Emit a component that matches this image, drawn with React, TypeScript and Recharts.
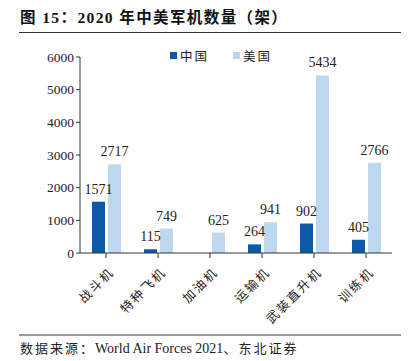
import React from "react";
import { BarChart, Bar, XAxis, YAxis, Legend, LabelList } from "recharts";

const categories = ["战斗机", "特种飞机", "加油机", "运输机", "武装直升机", "训练机"];
const chinaValues = [1571, 115, 0, 264, 902, 405];
const usValues = [2717, 749, 625, 941, 5434, 2766];
const yTicks = [0, 1000, 2000, 3000, 4000, 5000, 6000];

const data = categories.map((name, i) => ({
  name,
  china: chinaValues[i],
  us: usValues[i],
}));

const SERIF = '"Liberation Serif", "Times New Roman", "Noto Sans CJK SC", serif';
const CJK = '"Noto Sans CJK SC", "Liberation Serif", serif';
const CHINA = "#0b5aa8";
const US = "#bdd7ee";

function CategoryTick({ x, y, payload }: { x?: number; y?: number; payload?: { value: string } }) {
  const ax = (x ?? 0) + 5;
  const ay = (y ?? 0) + 9;
  return (
    <text
      x={ax}
      y={ay}
      transform={`rotate(-45 ${ax} ${ay})`}
      textAnchor="end"
      fontSize={12.5}
      fontFamily={CJK}
      fill="#222"
      dominantBaseline="central"
      letterSpacing={2}
    >
      {payload?.value}
    </text>
  );
}

function ValueLabel(props: { x?: number; y?: number; width?: number; value?: number }) {
  const { x = 0, y = 0, width = 0, value } = props;
  if (!value) return null;
  return (
    <text
      x={x + width / 2}
      y={y - 8}
      textAnchor="middle"
      fontSize={14}
      fontFamily={SERIF}
      fill="#222"
    >
      {value}
    </text>
  );
}

function LegendContent() {
  const items = [
    { label: "中国", color: CHINA },
    { label: "美国", color: US },
  ];
  return (
    <div style={{ display: "flex", justifyContent: "center", gap: 24, fontFamily: CJK, fontSize: 12.5, color: "#222", paddingLeft: 20, height: 20 }}>
      {items.map((it) => (
        <span key={it.label} style={{ display: "flex", alignItems: "center", letterSpacing: 2 }}>
          <span style={{ width: 7, height: 7, background: it.color, display: "inline-block", marginRight: 3 }} />
          {it.label}
        </span>
      ))}
    </div>
  );
}

export default function App() {
  return (
    <div style={{ position: "absolute", left: 0, top: 0, width: 419, height: 361, background: "#fff" }}>
      <div
        style={{
          position: "absolute",
          left: 20,
          top: 5,
          fontFamily: SERIF,
          fontWeight: "bold",
          fontSize: 15.5,
          color: "#111",
          letterSpacing: 1.4,
        }}
      >
        图 15：2020 年中美军机数量（架）
      </div>
      <div style={{ position: "absolute", left: 19, top: 32, width: 382, height: 1, background: "#333" }} />
      <div style={{ position: "absolute", left: 0, top: 0 }}>
        <BarChart
          width={419}
          height={361}
          data={data}
          margin={{ top: 37, right: 27, bottom: 8, left: 30 }}
          barGap={3}
          barCategoryGap={12}
        >
          <Legend
            verticalAlign="top"
            content={<LegendContent />}
            wrapperStyle={{ top: 45 }}
          />
          <XAxis
            dataKey="name"
            tick={<CategoryTick />}
            interval={0}
            stroke="#333"
            tickSize={5}
            axisLine={{ stroke: "#333" }}
            tickLine={{ stroke: "#333" }}
            height={100}
          />
          <YAxis
            domain={[0, 6000]}
            ticks={yTicks}
            width={50}
            tickSize={4}
            stroke="#333"
            tick={{ fontSize: 13.5, fontFamily: SERIF, fill: "#222" }}
          />
          <Bar dataKey="china" fill={CHINA} isAnimationActive={false}>
            <LabelList dataKey="china" content={<ValueLabel />} />
          </Bar>
          <Bar dataKey="us" fill={US} isAnimationActive={false}>
            <LabelList dataKey="us" content={<ValueLabel />} />
          </Bar>
        </BarChart>
      </div>
      <div style={{ position: "absolute", left: 19, top: 334, width: 382, height: 2, background: "#999" }} />
      <div
        style={{
          position: "absolute",
          left: 20,
          top: 338,
          fontFamily: SERIF,
          fontSize: 14,
          color: "#222",
        }}
      >
        <span style={{ fontFamily: CJK, letterSpacing: 2, fontSize: 13 }}>数据来源：</span>World Air Forces 2021
        <span style={{ fontFamily: CJK, letterSpacing: 2, fontSize: 13 }}>、东北证券</span>
      </div>
    </div>
  );
}
